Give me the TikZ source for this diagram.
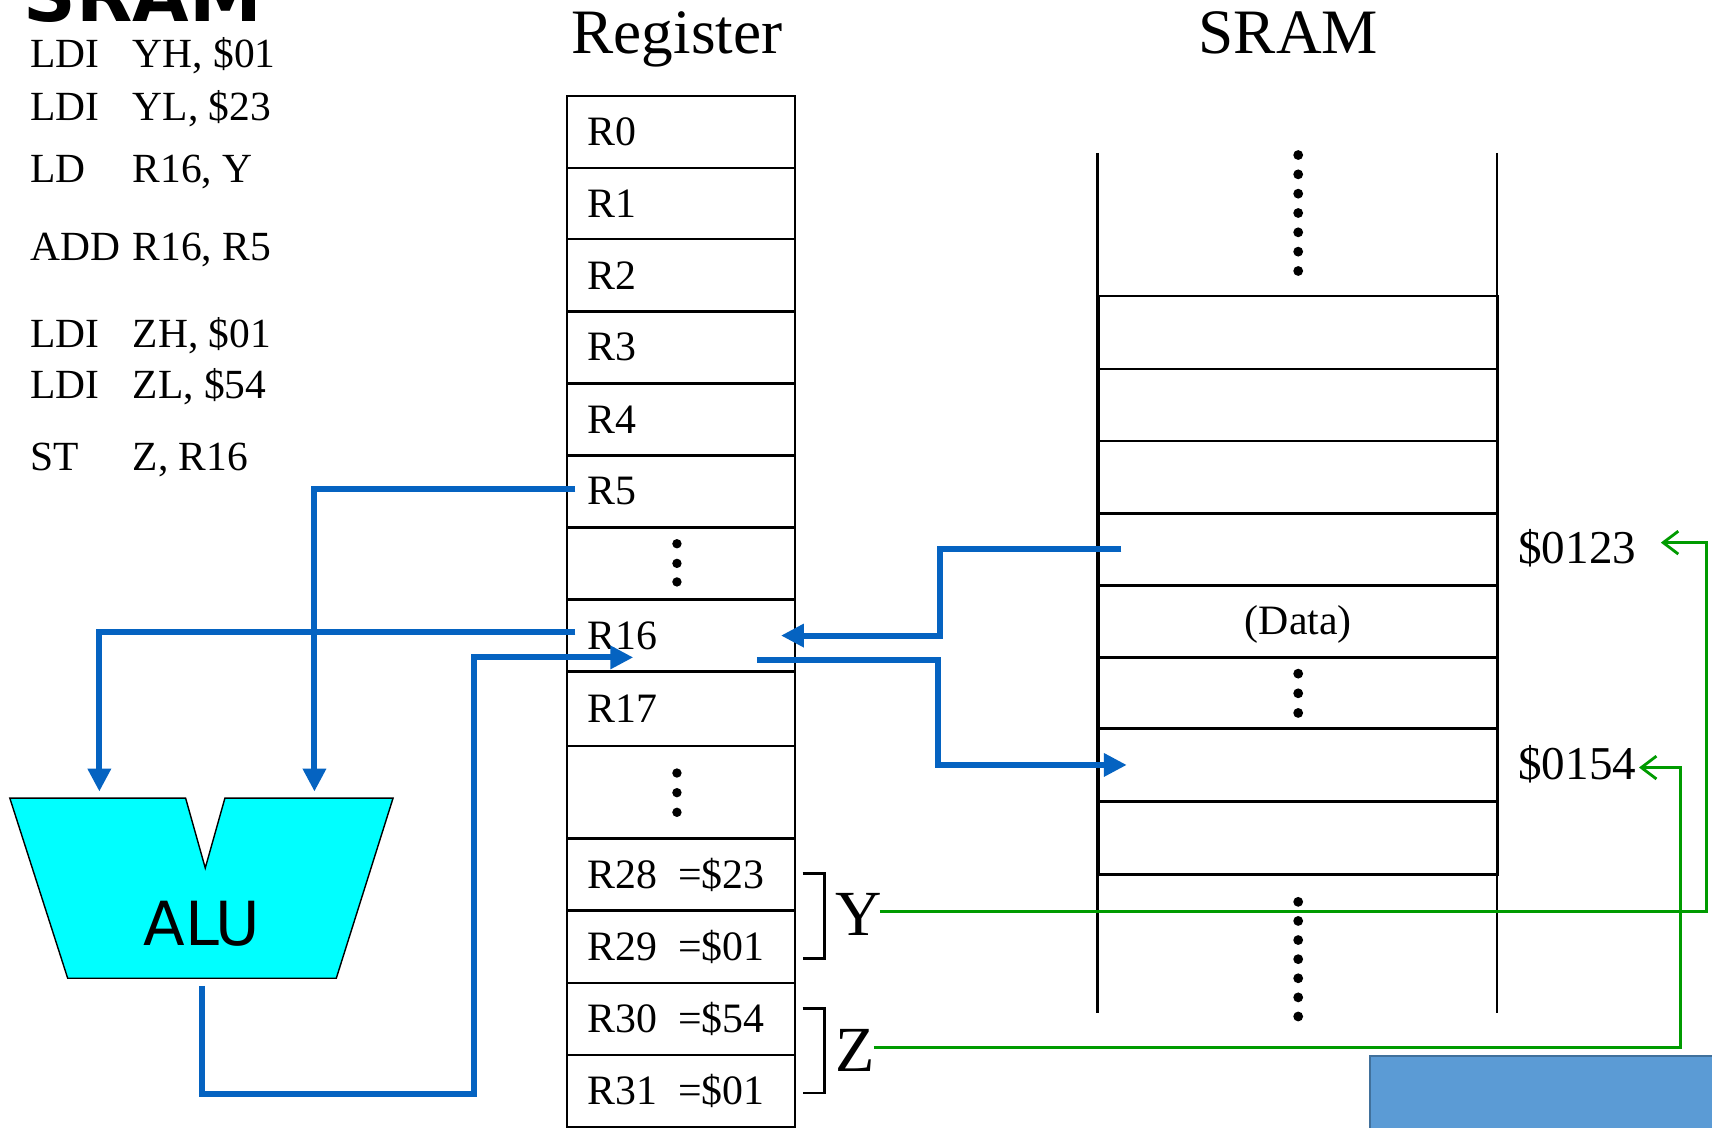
\documentclass[tikz,border=0pt]{standalone}
\usepackage{fontspec}
\setmainfont{Liberation Serif}
\newfontfamily\alufont{DejaVu Sans}
\usetikzlibrary{arrows.meta,calc}

% one pixel of the slide
\newcommand{\pxl}{0.10918mm}
\newcommand{\regval}[2]{\makebox[9.06mm][l]{#1}=\$#2}

\definecolor{busblue}{RGB}{5,99,193}
\definecolor{ptrgreen}{RGB}{0,155,0}
\definecolor{alucyan}{RGB}{0,255,255}
\definecolor{boxblue}{RGB}{91,155,213}
\definecolor{boxedge}{RGB}{65,113,156}

\tikzset{
	regcell/.style={draw, line width=0.7pt, anchor=north west, inner xsep=2.074mm, inner ysep=0pt, text width=18.67mm, align=left, font=\fontsize{11.9}{13}\selectfont},
	memcell/.style={draw, line width=0.7pt, anchor=north west, minimum width=39.96mm, inner sep=0pt, font=\fontsize{11.9}{13}\selectfont},
	codetext/.style={anchor=base west, inner sep=0pt, font=\fontsize{11.8}{13}\selectfont},
	bus/.style={busblue, line width=1.7pt},
	busarrow/.style={bus, -{Triangle[length=6.5pt,width=6.3pt]}},
	ptr/.style={ptrgreen, line width=0.8pt, -{Straight Barb[length=4.3pt,width=6.5pt]}},
}

\begin{document}
\begin{tikzpicture}[x=\pxl, y=-\pxl]
	\useasboundingbox (0,0) rectangle (1568,1033);
	\clip (0,0) rectangle (1568,1033);
	\fill[white] (0,0) rectangle (1568,1033);
	
	% headings
	\node[anchor=base west, inner sep=0pt, font=\alufont\bfseries\fontsize{20.8}{22}\selectfont] (slidetitle) at (21,20) {SRAM};
	\node[anchor=base, inner sep=0pt, font=\fontsize{18}{20}\selectfont] (regtitle) at (620,49) {Register};
	\node[anchor=base, inner sep=0pt, font=\fontsize{18}{20}\selectfont] (sramtitle) at (1180,49) {SRAM};
	
	% program
	\foreach \op/\arg/\yb [count=\i] in {LDI/{YH, \$01}/62, LDI/{YL, \$23}/110, LD/{R16, Y}/167, ADD/{R16, R5}/239, LDI/{ZH, \$01}/318, LDI/{ZL, \$54}/365, ST/{Z, R16}/431}{
		\node[codetext] (op\i) at (27,\yb) {\op};
		\node[codetext] (arg\i) at (121,\yb) {\arg};
	}
	
	% register file
	\foreach \nm/\lab/\ya/\yb in {r0/R0/87/153, r1/R1/153/218, r2/R2/218/284, r3/R3/284/350, r4/R4/350/416, r5/R5/416/482, rdotsA//482/548, r16/R16/548/614, r17/R17/614/682, rdotsB//682/767, r28/{\regval{R28}{23}}/767/833, r29/{\regval{R29}{01}}/833/899, r30/{\regval{R30}{54}}/899/965, r31/{\regval{R31}{01}}/965/1031}{
		\node[regcell, minimum height={(\yb-\ya)*\pxl}] (\nm) at (518,\ya) {\lab};
	}
	\foreach \y in {498,516,533,708,726,744}
		\fill (620,\y) circle (4.3);
	
	% pointer pairs
	\draw[line width=0.8pt] (735,800) -- (755,800) -- (755,878) -- (735,878);
	\draw[line width=0.8pt] (735,924) -- (755,924) -- (755,1001) -- (735,1001);
	\node[anchor=base west, inner sep=0pt, font=\fontsize{18.3}{20}\selectfont] (ylab) at (765,857) {Y};
	\node[anchor=base west, inner sep=0pt, font=\fontsize{18.3}{20}\selectfont] (zlab) at (765,981) {Z};
	
	% SRAM
	\foreach \nm/\ya/\yb in {m1/270/337, m2/337/403, m3/403/469, m4/469/535, m5/535/601, m6/601/666, m7/666/733, m8/733/800}{
		\node[memcell, minimum height={(\yb-\ya)*\pxl}] (\nm) at (1005,\ya) {};
	}
	\draw[line width=0.7pt] (1005,140) -- (1005,928);
	\draw[line width=0.7pt] (1371,140) -- (1371,928);
	\node[font=\fontsize{11.9}{13}\selectfont, inner sep=0pt] (data) at ($(m5.center)+(0,3)$) {(Data)};
	\foreach \k in {0,...,6}{
		\fill (1189,{142+17.7*\k}) circle (4.5);
		\fill (1189,{826+17.5*\k}) circle (4.5);
	}
	\foreach \y in {617,635,653}
		\fill (1189,\y) circle (4.5);
	\node[anchor=west, inner sep=0pt, font=\fontsize{13.4}{15}\selectfont] (a123) at (1390,502) {\$0123};
	\node[anchor=west, inner sep=0pt, font=\fontsize{13.4}{15}\selectfont] (a154) at (1390,700) {\$0154};
	
	% ALU
	\draw[fill=alucyan, line width=0.4pt] (9,731) -- (170,731) -- (188,795) -- (206,731) -- (360,731) -- (308,896) -- (62,896) -- cycle;
	\node[font=\alufont\fontsize{17.3}{18}\selectfont, inner sep=0pt] (alu) at (185,846) {ALU};
	\coordinate (aluinA) at (91,725);
	\coordinate (aluinB) at (288,725);
	\coordinate (aluout) at (185,903);
	
	% data paths
	\draw[busarrow] ($(r5.west)+(9,-2)$) -| (aluinB);
	\draw[busarrow] ($(r16.west)+(9,-3)$) -| (aluinA);
	\draw[busarrow] (aluout) |- ($(r16.west)+(-84,420)$) |- ($(r16.west)+(62,20)$);
	\draw[busarrow] ($(m4.west)+(22,0)$) -| ($(r16.east)+(132,0)$) -- ($(r16.east)+(-14,0)$);
	\draw[busarrow] ($(r16.east)+(-36,22)$) -| ($(m7.west)+(-146,0)$) -- ($(m7.west)+(27,0)$);
	
	% address pointers
	\draw[ptr] ($(ylab.east)+(-3,-3)$) -| ($(a123.east)+(64,-5)$) -- ($(a123.east)+(22,-5)$);
	\draw[ptr] ($(zlab.east)+(-2,-2)$) -| ($(a154.east)+(40,3)$) -- ($(a154.east)+(2,3)$);
	
	\draw[fill=boxblue, draw=boxedge, line width=0.5pt] (1255,967) rectangle (1600,1060);
\end{tikzpicture}
\end{document}
